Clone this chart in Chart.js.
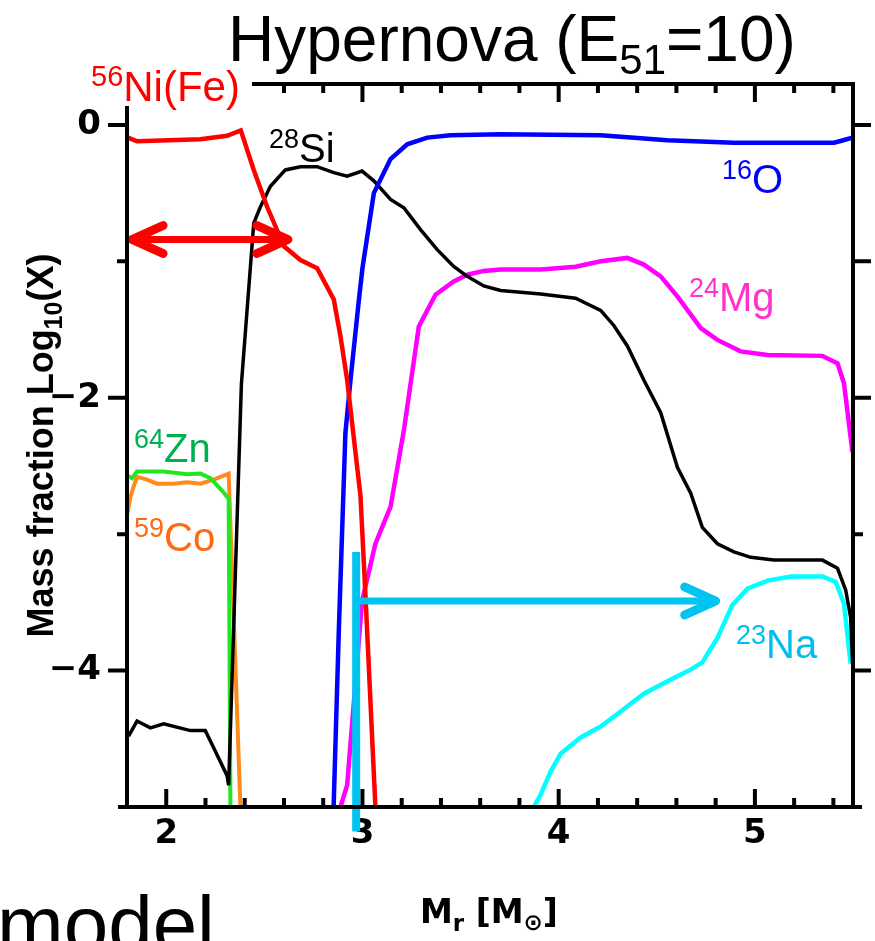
<!DOCTYPE html>
<html>
<head>
<meta charset="utf-8">
<script src="https://cdn.jsdelivr.net/npm/chart.js@4"></script>
<style>
  html, body { margin: 0; padding: 0; background: #fff; }
  #wrap { width: 875px; height: 941px; }
</style>
</head>
<body>
<div id="wrap"><canvas id="chart" width="875" height="941"></canvas></div>
<script>
// Mass coordinate M_r [Msun] and log10 mass fraction
const niX = [1.80, 1.851, 2.174, 2.31, 2.38, 2.446, 2.514, 2.60, 2.684, 2.769, 2.854, 2.888, 2.922, 2.99, 3.015, 3.066];
const niY = [-0.09, -0.12, -0.105, -0.08, -0.04, -0.33, -0.60, -0.89, -0.99, -1.05, -1.28, -1.55, -1.87, -2.72, -3.44, -5.0];

const siX = [1.808, 1.851, 1.919, 1.987, 2.123, 2.199, 2.233, 2.31, 2.318, 2.383, 2.446, 2.48, 2.531, 2.607, 2.684, 2.769,
             2.854, 2.922, 2.998, 3.058, 3.143, 3.211, 3.296, 3.381, 3.465, 3.534, 3.618, 3.704, 3.908, 4.086, 4.214,
             4.281, 4.35, 4.434, 4.52, 4.605, 4.673, 4.732, 4.809, 4.893, 4.979, 5.097, 5.344, 5.421, 5.463, 5.488, 5.498];
const siY = [-4.48, -4.37, -4.42, -4.39, -4.44, -4.44, -4.54, -4.77, -4.84, -1.9, -0.72, -0.6, -0.45, -0.33, -0.306, -0.306,
             -0.35, -0.375, -0.338, -0.41, -0.546, -0.607, -0.767, -0.914, -1.037, -1.11, -1.18, -1.213, -1.24, -1.27, -1.36,
             -1.47, -1.62, -1.87, -2.11, -2.51, -2.70, -2.95, -3.07, -3.13, -3.17, -3.19, -3.19, -3.25, -3.41, -3.61, -3.95];

const oX = [2.853, 2.879, 2.913, 2.939, 2.982, 3.0, 3.058, 3.143, 3.228, 3.33, 3.449, 3.704, 4.214, 4.554, 4.893, 5.403, 5.437, 5.497];
const oY = [-5.0, -3.73, -2.26, -1.87, -1.28, -1.05, -0.50, -0.25, -0.142, -0.093, -0.076, -0.068, -0.076, -0.113, -0.13, -0.13, -0.118, -0.093];

const mgX = [2.888, 2.922, 2.998, 3.066, 3.143, 3.211, 3.287, 3.372, 3.465, 3.534, 3.618, 3.704, 3.908, 4.086, 4.214,
             4.35, 4.434, 4.52, 4.605, 4.724, 4.809, 4.927, 5.064, 5.344, 5.421, 5.454, 5.497];
const mgY = [-5.0, -4.84, -3.49, -3.07, -2.80, -2.24, -1.48, -1.245, -1.147, -1.098, -1.07, -1.06, -1.06, -1.04, -1.0,
             -0.975, -1.024, -1.11, -1.257, -1.49, -1.576, -1.66, -1.686, -1.693, -1.747, -1.894, -2.397];

const naX = [3.873, 3.908, 3.959, 4.01, 4.112, 4.214, 4.316, 4.434, 4.579, 4.664, 4.732, 4.809, 4.885, 4.962, 5.064, 5.183, 5.344, 5.412, 5.454, 5.488];
const naY = [-5.0, -4.91, -4.74, -4.61, -4.49, -4.41, -4.30, -4.17, -4.06, -4.0, -3.94, -3.76, -3.52, -3.40, -3.34, -3.31, -3.31, -3.35, -3.51, -3.95];

const znX = [1.80, 1.826, 1.851, 1.987, 2.106, 2.174, 2.225, 2.284, 2.318, 2.327];
const znY = [-2.57, -2.59, -2.54, -2.54, -2.56, -2.556, -2.59, -2.68, -2.74, -5.0];

const coX = [1.80, 1.817, 1.834, 1.851, 1.902, 1.953, 2.038, 2.106, 2.174, 2.242, 2.318, 2.378];
const coY = [-2.86, -2.73, -2.65, -2.58, -2.60, -2.63, -2.63, -2.62, -2.63, -2.60, -2.556, -5.0];

// Axis ticks
const xTickLabels = [2, 3, 4, 5];
const yTickLabels = [0, -2, -4];

// Arrows (data coordinates)
const redArrow = { x1: 1.826, x2: 2.62, y: -0.84 };
const cyanArrow = { x: 2.968, yTop: -3.13, yBottom: -5.18, y: -3.49, xTip: 4.80 };

const FONT = '"Liberation Sans", Arial, sans-serif';
const BOLD = '"DejaVu Sans", "Liberation Sans", sans-serif';

function pts(xs, ys) {
    return xs.map((x, i) => ({ x: x, y: ys[i] }));
}

function line(data, color, width, order) {
    return {
        data: data,
        borderColor: color,
        borderWidth: width,
        showLine: true,
        pointRadius: 0,
        tension: 0,
        fill: false,
        order: order
    };
}

// Draw text made of pieces (superscripts / subscripts)
function drawRich(ctx, x, y, parts, color) {
    let cx = x;
    parts.forEach(p => {
        ctx.font = p.font;
        ctx.fillStyle = p.color || color;
        ctx.fillText(p.text, cx, y + (p.dy || 0));
        cx += ctx.measureText(p.text).width;
    });
}

function richWidth(ctx, parts) {
    let w = 0;
    parts.forEach(p => { ctx.font = p.font; w += ctx.measureText(p.text).width; });
    return w;
}

function isoLabel(ctx, x, y, mass, name, color, size) {
    size = size || 40;
    drawRich(ctx, x, y, [
        { text: mass, font: `${Math.round(size * 0.68)}px ${FONT}`, dy: -Math.round(size * 0.35) },
        { text: name, font: `${size}px ${FONT}` }
    ], color);
}

function arrowHead(ctx, tx, ty, dir, color) {
    ctx.save();
    ctx.strokeStyle = color;
    ctx.lineWidth = 9;
    ctx.lineCap = 'round';
    ctx.lineJoin = 'round';
    ctx.beginPath();
    ctx.moveTo(tx - dir * 31, ty - 14);
    ctx.lineTo(tx, ty);
    ctx.lineTo(tx - dir * 31, ty + 14);
    ctx.stroke();
    ctx.restore();
}

const framePlugin = {
    id: 'frame',
    afterDraw(chart) {
        const ctx = chart.ctx;
        const a = chart.chartArea;
        const xs = chart.scales.x;
        const ys = chart.scales.y;
        ctx.save();

        // arrows
        const ry = ys.getPixelForValue(redArrow.y);
        const rx1 = xs.getPixelForValue(redArrow.x1);
        const rx2 = xs.getPixelForValue(redArrow.x2);
        ctx.strokeStyle = '#ff0000';
        ctx.lineWidth = 7;
        ctx.beginPath();
        ctx.moveTo(rx1 + 3, ry);
        ctx.lineTo(rx2 - 3, ry);
        ctx.stroke();
        arrowHead(ctx, rx1, ry, -1, '#ff0000');
        arrowHead(ctx, rx2, ry, 1, '#ff0000');

        const cx = xs.getPixelForValue(cyanArrow.x);
        const cy = ys.getPixelForValue(cyanArrow.y);
        const ctip = xs.getPixelForValue(cyanArrow.xTip);
        ctx.strokeStyle = '#00c4f0';
        ctx.lineWidth = 8;
        ctx.beginPath();
        ctx.moveTo(cx, ys.getPixelForValue(cyanArrow.yTop));
        ctx.lineTo(cx, ys.getPixelForValue(cyanArrow.yBottom));
        ctx.stroke();
        ctx.lineWidth = 7;
        ctx.beginPath();
        ctx.moveTo(cx - 3, cy);
        ctx.lineTo(ctip - 3, cy);
        ctx.stroke();
        arrowHead(ctx, ctip, cy, 1, '#00c4f0');

        // frame
        ctx.strokeStyle = '#000';
        ctx.lineWidth = 4;
        ctx.lineCap = 'butt';
        ctx.beginPath();
        ctx.moveTo(a.left - 9, a.bottom);
        ctx.lineTo(a.right + 9, a.bottom);
        ctx.moveTo(a.left, a.top);
        ctx.lineTo(a.left, a.bottom);
        ctx.moveTo(a.right, a.top - 2);
        ctx.lineTo(a.right, a.bottom);
        ctx.moveTo(a.left, a.top);
        ctx.lineTo(a.right + 2, a.top);
        ctx.stroke();

        // x ticks: inward, major on integers, minor every 0.2
        ctx.beginPath();
        for (let v = 2.0; v < 5.45; v += 0.2) {
            const px = xs.getPixelForValue(v);
            const major = Math.abs(v - Math.round(v)) < 0.01;
            const len = major ? 18 : 9;
            ctx.moveTo(px, a.bottom);
            ctx.lineTo(px, a.bottom - len);
            ctx.moveTo(px, a.top);
            ctx.lineTo(px, a.top + len);
        }
        // y ticks: outward
        for (let v = 0; v >= -4; v--) {
            const py = ys.getPixelForValue(v);
            const lenL = (v % 2 === 0) ? 19 : 10;
            const lenR = (v === -3) ? 10 : 18;
            ctx.moveTo(a.left, py);
            ctx.lineTo(a.left - lenL, py);
            ctx.moveTo(a.right, py);
            ctx.lineTo(a.right + lenR, py);
        }
        ctx.stroke();

        // white box behind the Ni label
        ctx.fillStyle = '#fff';
        ctx.fillRect(86, 56, 166, 50);

        ctx.textAlign = 'left';
        ctx.textBaseline = 'alphabetic';

        // title
        drawRich(ctx, 228, 61, [
            { text: 'Hypernova (E', font: `64px ${FONT}` },
            { text: '51', font: `42px ${FONT}`, dy: 13 },
            { text: '=10)', font: `64px ${FONT}` }
        ], '#000');

        // isotope labels
        isoLabel(ctx, 91, 101, '56', 'Ni(Fe)', '#ff0000', 42);
        isoLabel(ctx, 269, 162, '28', 'Si', '#000000');
        isoLabel(ctx, 722, 193, '16', 'O', '#0000ff');
        isoLabel(ctx, 689, 311, '24', 'Mg', '#ff33cc');
        isoLabel(ctx, 134, 462, '64', 'Zn', '#00b050');
        isoLabel(ctx, 134, 551, '59', 'Co', '#ff6a10');
        isoLabel(ctx, 736, 658, '23', 'Na', '#00bff0');

        // x axis title
        drawRich(ctx, 420, 923, [
            { text: 'M', font: `bold 33px ${BOLD}` },
            { text: 'r', font: `bold 23px ${BOLD}`, dy: 8 },
            { text: ' [M', font: `bold 33px ${BOLD}` },
            { text: '\u2299', font: `bold 23px ${BOLD}`, dy: 7 },
            { text: ']', font: `bold 33px ${BOLD}` }
        ], '#000');

        // y axis title, rotated
        const yParts = [
            { text: 'Mass fraction Log', font: `bold 36px ${FONT}` },
            { text: '10', font: `bold 25px ${FONT}`, dy: 9 },
            { text: '(X)', font: `bold 36px ${FONT}` }
        ];
        const w = richWidth(ctx, yParts);
        ctx.save();
        ctx.translate(53, (a.top + a.bottom) / 2);
        ctx.rotate(-Math.PI / 2);
        drawRich(ctx, -w / 2, 0, yParts, '#000');
        ctx.restore();

        // cut-off caption at the bottom
        ctx.font = `80px ${FONT}`;
        ctx.fillStyle = '#000';
        ctx.fillText('model', -3, 952);

        ctx.restore();
    }
};

const ctx = document.getElementById('chart').getContext('2d');
new Chart(ctx, {
    type: 'scatter',
    data: {
        datasets: [
            line(pts(niX, niY), '#ff0000', 4.5, 1),
            line(pts(oX, oY), '#0000ff', 4.5, 2),
            line(pts(siX, siY), '#000000', 3.5, 3),
            line(pts(mgX, mgY), '#ff00ff', 4.5, 4),
            line(pts(naX, naY), '#00ffff', 4.5, 5),
            line(pts(znX, znY), '#22e622', 4, 6),
            line(pts(coX, coY), '#ff8a1c', 4, 7)
        ]
    },
    options: {
        responsive: false,
        animation: false,
        devicePixelRatio: 1,
        layout: { padding: { left: 0, right: 22, top: 84, bottom: 0 } },
        plugins: {
            legend: { display: false },
            tooltip: { enabled: false }
        },
        scales: {
            x: {
                type: 'linear',
                min: 1.8,
                max: 5.5,
                grid: { display: false, drawTicks: false },
                border: { display: false },
                afterBuildTicks: function(scale) {
                    scale.ticks = xTickLabels.map(v => ({ value: v }));
                },
                afterFit: function(scale) { scale.height = 134; },
                ticks: {
                    padding: 7,
                    color: '#000',
                    font: { family: BOLD, size: 34, weight: 'bold' },
                    callback: v => String(v)
                }
            },
            y: {
                type: 'linear',
                min: -5,
                max: 0.3,
                grid: { display: false, drawTicks: false },
                border: { display: false },
                afterBuildTicks: function(scale) {
                    scale.ticks = yTickLabels.map(v => ({ value: v }));
                },
                afterFit: function(scale) { scale.width = 127; },
                ticks: {
                    padding: 26,
                    color: '#000',
                    font: { family: BOLD, size: 34, weight: 'bold' },
                    callback: v => (v < 0 ? '\u2212' + Math.abs(v) : String(v))
                }
            }
        }
    },
    plugins: [framePlugin]
});
</script>
</body>
</html>
